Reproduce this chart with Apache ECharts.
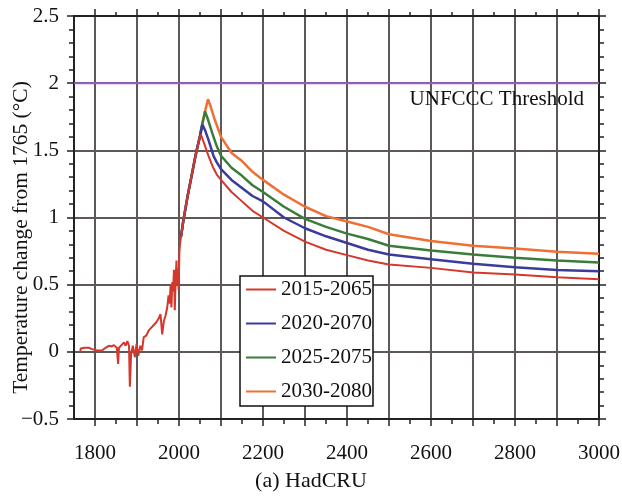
<!DOCTYPE html>
<html><head><meta charset="utf-8">
<script src="https://cdn.jsdelivr.net/npm/echarts@6/dist/echarts.min.js"></script>
<style>html,body{margin:0;padding:0;background:#fff}#c{width:622px;height:496px}</style>
</head><body><div id="c"></div>
<script>
// ---- data ----
const seriesNames = ['2015-2065','2020-2070','2025-2075','2030-2080'];
const seriesColors = ['#d4382c','#3b3b9c','#3a7d3a','#ee7034'];

const redYears = [1765,1766,1775,1785,1793,1797,1805,1817,1825,1833,1840,1845,1852,1855,1857,1863,1869,1873,1877,1881,1883,1886,1890,1895,1899,1903,1908,1912,1916,1922,1928,1934,1940,1946,1952,1956,1960,1964,1968,1972,1975,1978,1980,1982,1984,1986,1988,1990,1992,1994,1996,1998,1999,2001,2003,2005,2010,2020,2030,2040,2045,2050,2052,2060,2070,2080,2090,2100,2125,2150,2175,2200,2250,2300,2350,2400,2450,2500,2600,2700,2800,2900,3000];
const redVals  = [0.00,0.025,0.03,0.03,0.02,0.01,0.01,0.01,0.03,0.045,0.04,0.05,0.03,-0.09,0.03,0.05,0.07,0.045,0.08,0.045,-0.26,-0.02,0.045,-0.04,0.06,-0.03,0.045,0.01,0.11,0.12,0.16,0.18,0.20,0.22,0.25,0.28,0.13,0.23,0.27,0.33,0.42,0.36,0.50,0.33,0.52,0.45,0.61,0.31,0.55,0.68,0.50,0.62,0.46,0.75,0.82,0.86,0.97,1.15,1.31,1.47,1.54,1.60,1.62,1.55,1.46,1.38,1.32,1.28,1.19,1.12,1.05,1.00,0.90,0.82,0.76,0.72,0.68,0.65,0.625,0.59,0.575,0.555,0.54];

const blueYears = [2005,2010,2020,2030,2040,2045,2050,2053,2056,2062,2070,2082,2090,2100,2125,2150,2175,2200,2250,2300,2350,2400,2450,2500,2600,2700,2800,2900,3000];
const blueVals  = [0.86,0.97,1.15,1.31,1.47,1.54,1.60,1.65,1.69,1.65,1.58,1.46,1.41,1.36,1.28,1.22,1.16,1.12,1.00,0.92,0.86,0.81,0.76,0.725,0.69,0.655,0.63,0.61,0.60];

const greenYears = [2005,2010,2020,2030,2040,2045,2050,2055,2060,2062,2070,2080,2090,2100,2125,2150,2175,2200,2250,2300,2350,2400,2450,2500,2600,2700,2800,2900,3000];
const greenVals  = [0.86,0.97,1.15,1.31,1.47,1.54,1.61,1.69,1.76,1.79,1.72,1.62,1.53,1.46,1.37,1.31,1.24,1.19,1.08,0.99,0.93,0.88,0.84,0.79,0.755,0.725,0.70,0.68,0.665];

const orangeYears = [2005,2010,2020,2030,2040,2045,2050,2055,2060,2065,2069,2075,2086,2100,2125,2150,2175,2200,2250,2300,2350,2400,2450,2500,2600,2700,2800,2900,3000];
const orangeVals  = [0.86,0.97,1.15,1.31,1.47,1.54,1.61,1.69,1.76,1.83,1.88,1.83,1.72,1.60,1.48,1.42,1.34,1.28,1.17,1.08,1.01,0.97,0.93,0.875,0.825,0.79,0.77,0.745,0.73];

const thresholdYears = [1750, 3000];
const thresholdVals = [2, 2];

const xMin = 1750, xMax = 3000, xStep = 50;
const xLabelValues = [1800,2000,2200,2400,2600,2800,3000];
const xMajorTicks = [1800,1900,2000,2100,2200,2300,2400,2500,2600,2700,2800,2900,3000];
const xMinorTicks = [1850,1950,2050,2150,2250,2350,2450,2550,2650,2750,2850,2950];
const yMin = -0.5, yMax = 2.5, yStep = 0.5;

// ---- chart ----
const FONT = 'Liberation Serif';
const AX = '#222';
const GRID = '#5e5858';
const zip = (xs, ys) => xs.map((x, i) => [x, ys[i]]);

function xAxisDef(pos, ticks, len, opts) {
  return Object.assign({
    type: 'value', min: xMin, max: xMax, interval: xStep, position: pos,
    axisLine: { show: true, onZero: false, lineStyle: { color: AX, width: 2 } },
    axisTick: { show: true, inside: false, length: len, customValues: ticks, lineStyle: { color: AX, width: 1.5 } },
    axisLabel: { show: false },
    splitLine: { show: false }
  }, opts || {});
}

const chart = echarts.init(document.getElementById('c'), null, { renderer: 'canvas' });
chart.setOption({
  animation: false,
  backgroundColor: '#fff',
  title: {
    text: '(a) HadCRU', left: 'center', top: 465,
    textStyle: { fontFamily: FONT, fontSize: 22, fontWeight: 'normal', color: '#111' }
  },
  grid: { left: 74, right: 23, top: 16, bottom: 77, containLabel: false, outerBoundsMode: 'none' },
  xAxis: [
    xAxisDef('bottom', xMajorTicks, 7, {
      axisLabel: { show: true, customValues: xLabelValues, margin: 24, fontFamily: FONT, fontSize: 21, color: '#111',
        formatter: v => String(v) },
      splitLine: { show: true, lineStyle: { color: GRID, width: 2 } }
    }),
    xAxisDef('bottom', xMinorTicks, 5),
    xAxisDef('top', xMajorTicks, 7),
    xAxisDef('top', xMinorTicks, 4)
  ],
  yAxis: [
    {
      type: 'value', min: yMin, max: yMax, interval: yStep, position: 'left',
      name: 'Temperature change from 1765 (°C)', nameLocation: 'middle', nameGap: 42, nameRotate: 90,
      nameMoveOverlap: false,
      nameTextStyle: { fontFamily: FONT, fontSize: 21.5, color: '#111', padding: [0, 40, 0, 0] },
      axisLine: { show: true, onZero: false, lineStyle: { color: AX, width: 2 } },
      axisTick: { show: true, inside: false, length: 7, lineStyle: { color: AX, width: 1.5 } },
      minorTick: { show: true, splitNumber: 5, length: 5, lineStyle: { color: AX, width: 1.5 } },
      axisLabel: { margin: 15, fontFamily: FONT, fontSize: 21, color: '#111',
        formatter: v => (v < 0 ? '\u2212' + Math.abs(v) : String(v)) },
      splitLine: { show: true, lineStyle: { color: GRID, width: 2 } }
    },
    {
      type: 'value', min: yMin, max: yMax, interval: yStep, position: 'right',
      axisLine: { show: true, onZero: false, lineStyle: { color: AX, width: 2 } },
      axisTick: { show: true, inside: false, length: 7, lineStyle: { color: AX, width: 1.5 } },
      minorTick: { show: true, splitNumber: 5, length: 5, lineStyle: { color: AX, width: 1.5 } },
      axisLabel: { show: false },
      splitLine: { show: false }
    }
  ],
  legend: {
    orient: 'vertical', left: 240, top: 276,
    data: seriesNames, icon: 'rect', itemWidth: 30, itemHeight: 2, itemGap: 13,
    padding: [3, 1, 4, 6],
    backgroundColor: '#fff', borderColor: '#111', borderWidth: 1.5, borderRadius: 0,
    textStyle: { fontFamily: FONT, fontSize: 21, lineHeight: 21, color: '#111' }
  },
  graphic: [{
    type: 'text', right: 38, top: 89, z: 10,
    style: { text: 'UNFCCC Threshold', font: '21px "Liberation Serif"', fill: '#111' }
  }],
  series: [
    { name: 'threshold', type: 'line', data: zip(thresholdYears, thresholdVals), showSymbol: false,
      lineStyle: { color: '#9b5fc0', width: 2 }, itemStyle: { color: '#9b5fc0' }, silent: true, z: 1 },
    { name: seriesNames[3], type: 'line', data: zip(orangeYears, orangeVals), showSymbol: false,
      lineStyle: { color: seriesColors[3], width: 2.5 }, itemStyle: { color: seriesColors[3] } },
    { name: seriesNames[2], type: 'line', data: zip(greenYears, greenVals), showSymbol: false,
      lineStyle: { color: seriesColors[2], width: 2.5 }, itemStyle: { color: seriesColors[2] } },
    { name: seriesNames[1], type: 'line', data: zip(blueYears, blueVals), showSymbol: false,
      lineStyle: { color: seriesColors[1], width: 2.5 }, itemStyle: { color: seriesColors[1] } },
    { name: seriesNames[0], type: 'line', data: zip(redYears, redVals), showSymbol: false,
      lineStyle: { color: seriesColors[0], width: 2 }, itemStyle: { color: seriesColors[0] } }
  ]
});
</script></body></html>
